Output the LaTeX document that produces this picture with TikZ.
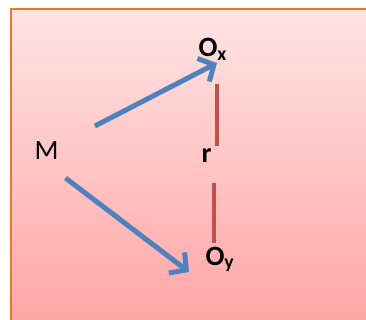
\documentclass[tikz,border=0pt]{standalone}
\usepackage{fontspec}
\setmainfont{Carlito}
\usepackage{xcolor}
\usepackage{tikz}
\usetikzlibrary{arrows.meta}

\definecolor{boxtop}{RGB}{255,228,228}
\definecolor{boxbot}{RGB}{255,164,164}
\definecolor{boxline}{RGB}{230,120,40}
\definecolor{arrowblue}{RGB}{79,129,189}
\definecolor{linered}{RGB}{192,80,77}

\tikzset{
    lbl/.style={anchor=base west, inner sep=3.3pt, font=\fontsize{28}{30}\selectfont},
    bluearrow/.style={arrowblue, line width=5pt, -{Straight Barb[length=12pt, width=26pt, line width=5pt]}},
    redline/.style={linered, line width=3.5pt}
}

\begin{document}
\begin{tikzpicture}[x=1pt, y=-1pt]
    \useasboundingbox (0,0) rectangle (366,320);

    % background box
    \shade[top color=boxtop, bottom color=boxbot] (11,9) rectangle (380,330);
    \draw[boxline, line width=1.2pt] (380,9) -- (11,9) -- (11,330);

    % labels
    \node[lbl] (M) at (31,160) {M};
    \node[lbl] (Ox) at (195,57) {\bfseries O\textsubscript{x}};
    \node[lbl] (r) at (198,163) {\bfseries r};
    \node[lbl] (Oy) at (202,265) {\bfseries O\textsubscript{y}};
    \coordinate (tipx) at (217,63);
    \coordinate (tipy) at (189,272);
    \coordinate (ry) at ([xshift=-6pt]Oy.north);

    % arrows from M
    \draw[bluearrow, shorten <=37pt] (M) -- (tipx);
    \draw[bluearrow, shorten <=24pt] (M.south) -- (tipy);

    % r between Ox and Oy
    \draw[redline, shorten >=20pt] (r.north -| tipx) -- (Ox.south -| tipx);
    \draw[redline, shorten <=17pt] (r.south -| ry) -- (ry);
\end{tikzpicture}
\end{document}
